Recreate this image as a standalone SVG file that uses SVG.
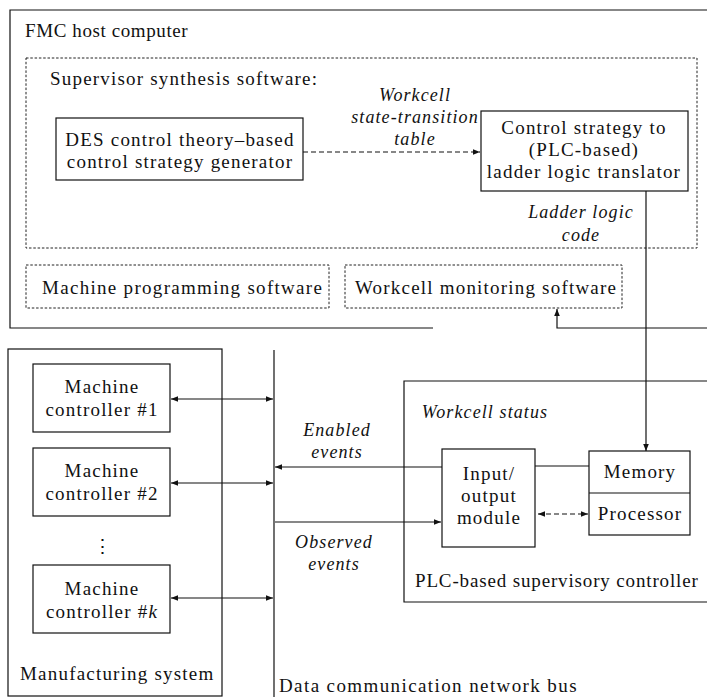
<svg xmlns="http://www.w3.org/2000/svg" width="707" height="697" viewBox="0 0 707 697">
  <style>
    .bg { fill: #ffffff; }
    .box { fill: none; stroke: #111; stroke-width: 1.2; }
    .dot { fill: none; stroke: #222; stroke-width: 1; stroke-dasharray: 2.5 1.8; }
    .ln { fill: none; stroke: #111; stroke-width: 1.2; }
    .dash { fill: none; stroke: #111; stroke-width: 1.1; stroke-dasharray: 5 3; }
    .t { font-family: "Liberation Serif", "Times New Roman", serif; font-size: 19px; letter-spacing: 1.2px; fill: #111; }
    .i { font-family: "Liberation Serif", "Times New Roman", serif; font-size: 18px; font-style: italic; letter-spacing: 1.1px; fill: #111; }
    .c { text-anchor: middle; }
  </style>
  <defs>
    <marker id="ah" viewBox="0 0 10 10" refX="10" refY="5" markerWidth="7" markerHeight="7" markerUnits="userSpaceOnUse" orient="auto-start-reverse">
      <path d="M0,1 L10,5 L0,9 Z" fill="#111"/>
    </marker>
  </defs>
  <rect class="bg" x="0" y="0" width="707" height="697"/>

  <!-- host computer enclosure (open to the right) -->
  <g id="fmc-host">
    <path class="box" d="M707,10 H10 V328 H433"/>
    <text class="t" x="25" y="37" style="letter-spacing:0.6px">FMC host computer</text>
  </g>

  <g id="supervisor-synthesis">
    <rect class="dot" x="26" y="58" width="671" height="190"/>
    <text class="t" x="50" y="85">Supervisor synthesis software:</text>
  </g>

  <g id="des-generator">
    <rect class="box" x="56" y="118" width="247" height="62"/>
    <text class="t c" x="180" y="146">DES control theory–based</text>
    <text class="t c" x="180" y="168">control strategy generator</text>
  </g>

  <g id="ladder-translator">
    <rect class="box" x="481" y="111" width="207" height="80"/>
    <text class="t c" x="584" y="134">Control strategy to</text>
    <text class="t c" x="584" y="156">(PLC-based)</text>
    <text class="t c" x="584" y="178">ladder logic translator</text>
  </g>

  <g id="machine-programming">
    <rect class="dot" x="26" y="265" width="303" height="43"/>
    <text class="t" x="42" y="294" style="letter-spacing:1.3px">Machine programming software</text>
  </g>

  <g id="workcell-monitoring">
    <rect class="dot" x="345" y="265" width="277" height="43"/>
    <text class="t" x="355" y="294">Workcell monitoring software</text>
  </g>

  <g id="manufacturing-system">
    <rect class="box" x="8" y="349" width="214" height="347"/>
    <text class="t" x="20" y="680">Manufacturing system</text>
  </g>

  <g id="machine-controller-1">
    <rect class="box" x="33" y="364" width="137" height="68"/>
    <text class="t c" x="102" y="393">Machine</text>
    <text class="t c" x="102" y="416">controller #1</text>
  </g>

  <g id="machine-controller-2">
    <rect class="box" x="33" y="448" width="137" height="68"/>
    <text class="t c" x="102" y="477">Machine</text>
    <text class="t c" x="102" y="500">controller #2</text>
  </g>

  <g id="controller-ellipsis">
    <text class="t c" x="102" y="553" style="letter-spacing:0">⋮</text>
  </g>

  <g id="machine-controller-k">
    <rect class="box" x="33" y="565" width="137" height="68"/>
    <text class="t c" x="102" y="595">Machine</text>
    <text class="t c" x="102" y="618">controller #<tspan font-style="italic">k</tspan></text>
  </g>

  <g id="network-bus">
    <line class="ln" x1="274" y1="350" x2="274" y2="697"/>
    <text class="t" x="279" y="692" style="letter-spacing:1.4px">Data communication network bus</text>
  </g>

  <g id="plc-controller">
    <path class="box" d="M707,381 H404 V602 H707"/>
    <text class="t" x="415" y="587" style="letter-spacing:0.85px">PLC-based supervisory controller</text>
  </g>

  <g id="io-module">
    <rect class="box" x="442" y="449" width="93" height="98"/>
    <text class="t c" x="489" y="480">Input/</text>
    <text class="t c" x="489" y="502">output</text>
    <text class="t c" x="489" y="524">module</text>
  </g>

  <g id="memory-processor">
    <rect class="box" x="589" y="451" width="101" height="84"/>
    <line class="ln" x1="589" y1="493" x2="690" y2="493"/>
    <text class="t c" x="640" y="478">Memory</text>
    <text class="t c" x="640" y="520">Processor</text>
  </g>

  <g id="connectors">
    <!-- state-transition table into the translator -->
    <line class="dash" x1="303" y1="152" x2="480" y2="152" marker-end="url(#ah)"/>
    <!-- ladder logic code down to PLC memory -->
    <line class="ln" x1="646" y1="191" x2="646" y2="451" marker-end="url(#ah)"/>
    <!-- workcell status back up to monitoring software -->
    <path class="ln" d="M707,328 H557 V309" marker-end="url(#ah)"/>
    <!-- machine controllers to the bus -->
    <line class="ln" x1="171" y1="399" x2="273" y2="399" marker-start="url(#ah)" marker-end="url(#ah)"/>
    <line class="ln" x1="171" y1="483" x2="273" y2="483" marker-start="url(#ah)" marker-end="url(#ah)"/>
    <line class="ln" x1="171" y1="598" x2="273" y2="598" marker-start="url(#ah)" marker-end="url(#ah)"/>
    <!-- enabled events out of the I/O module -->
    <line class="ln" x1="442" y1="467" x2="275" y2="467" marker-end="url(#ah)"/>
    <!-- observed events into the I/O module -->
    <line class="ln" x1="275" y1="522" x2="441" y2="522" marker-end="url(#ah)"/>
    <!-- I/O module to memory -->
    <line class="ln" x1="535" y1="466" x2="589" y2="466"/>
    <!-- I/O module and processor -->
    <line class="dash" x1="538" y1="514" x2="588" y2="514" marker-start="url(#ah)" marker-end="url(#ah)"/>
  </g>

  <g id="labels">
    <text class="i c" x="415" y="101">Workcell</text>
    <text class="i c" x="415" y="123">state-transition</text>
    <text class="i c" x="415" y="145">table</text>
    <text class="i c" x="581" y="218">Ladder logic</text>
    <text class="i c" x="581" y="241">code</text>
    <text class="i c" x="485" y="418">Workcell status</text>
    <text class="i c" x="337" y="436">Enabled</text>
    <text class="i c" x="337" y="458">events</text>
    <text class="i c" x="334" y="548">Observed</text>
    <text class="i c" x="334" y="570">events</text>
  </g>
</svg>
